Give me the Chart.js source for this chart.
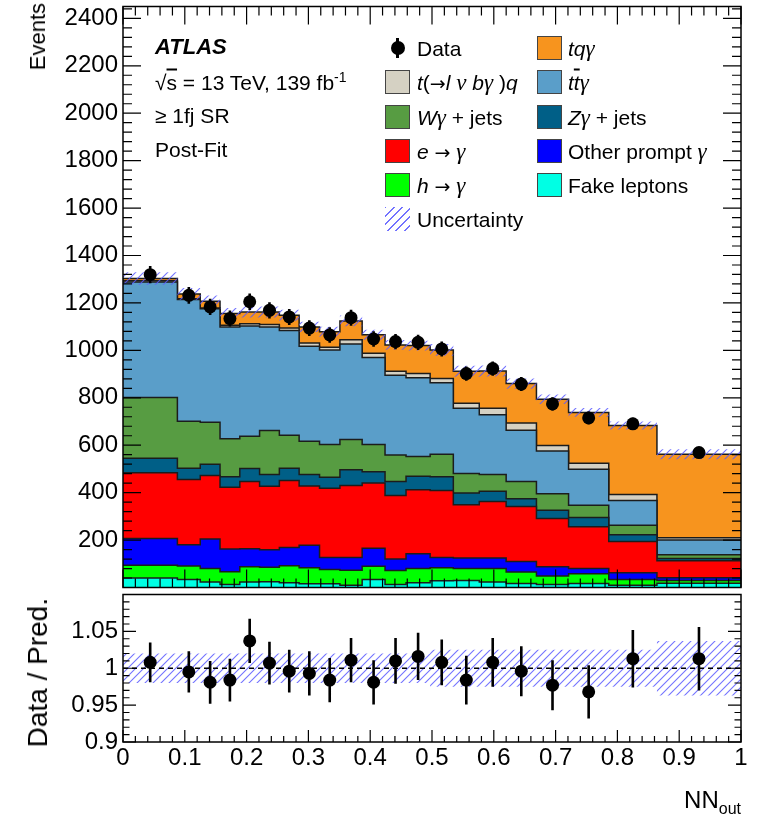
<!DOCTYPE html>
<html>
<head>
<meta charset="utf-8">
<script src="https://cdn.jsdelivr.net/npm/chart.js@4.4.1/dist/chart.umd.min.js"></script>
<style>
  body { margin: 0; background: #fff; font-family: "Liberation Sans", Arial, Helvetica, sans-serif; }
  #wrap { position: relative; width: 758px; height: 814px; overflow: hidden; background: #fff; }
  canvas { position: absolute; left: 0; }
  #main { top: 0; }
  #ratio { top: 588px; }
  .t { position: absolute; white-space: nowrap; font-size: 21px; line-height: 1; color: #000; transform: translateY(-50%); }
  .sw { position: absolute; width: 25px; height: 24px; box-sizing: border-box; border: 1px solid #444; transform: translateY(-50%); }
  .hatch { border: none; background: repeating-linear-gradient(135deg, rgba(90,90,255,0.85) 0 1.3px, transparent 1.3px 6px); }
  .rot { position: absolute; white-space: nowrap; line-height: 1; transform-origin: 0 0; transform: rotate(-90deg) translate(-100%, -50%); }
  .ol { text-decoration: overline; }
  .g { font-family: "Liberation Serif", "DejaVu Serif", serif; font-style: italic; font-size: 23px; }
  .ar { font-family: "DejaVu Sans", sans-serif; font-size: 19px; }
</style>
</head>
<body>
<div id="wrap">
  <canvas id="main" width="758" height="594"></canvas>
  <canvas id="ratio" width="758" height="226"></canvas>

  <div class="t" style="left:155px;top:47px;font-size:22px;font-weight:bold;font-style:italic;">ATLAS</div>
  <div class="t" style="left:155px;top:81px;">&radic;<span class="ol">s</span> = 13 TeV, 139 fb<sup style="font-size:14px;">-1</sup></div>
  <div class="t" style="left:155px;top:115px;">&ge; 1fj SR</div>
  <div class="t" style="left:155px;top:149px;">Post-Fit</div>

  <div style="position:absolute;left:396px;top:38px;width:3px;height:20px;background:#000;"></div>
  <div style="position:absolute;left:391px;top:41px;width:14px;height:14px;border-radius:50%;background:#000;"></div>
  <div class="t" style="left:417px;top:48px;">Data</div>
  <div class="sw" style="left:385px;top:82px;background:#d5d1c3;"></div>
  <div class="t" style="left:417px;top:82px;"><i>t</i>(<span class="ar">&rarr;</span><i>l</i> <span class="g">&nu;</span> <i>b</i><span class="g">&gamma;</span> )<i>q</i></div>
  <div class="sw" style="left:385px;top:117px;background:#579c42;"></div>
  <div class="t" style="left:417px;top:117px;"><i>W</i><span class="g">&gamma;</span> + jets</div>
  <div class="sw" style="left:385px;top:151px;background:#ff0000;"></div>
  <div class="t" style="left:417px;top:151px;"><i>e</i> <span class="ar">&rarr;</span> <span class="g">&gamma;</span></div>
  <div class="sw" style="left:385px;top:185px;background:#00ff00;"></div>
  <div class="t" style="left:417px;top:185px;"><i>h</i> <span class="ar">&rarr;</span> <span class="g">&gamma;</span></div>
  <div class="sw hatch" style="left:385px;top:219px;"></div>
  <div class="t" style="left:417px;top:219px;">Uncertainty</div>

  <div class="sw" style="left:537px;top:48px;background:#f7941e;"></div>
  <div class="t" style="left:568px;top:48px;"><i>tq</i><span class="g">&gamma;</span></div>
  <div class="sw" style="left:537px;top:82px;background:#5a9ec9;"></div>
  <div class="t" style="left:568px;top:82px;"><i>t</i><i class="ol">t</i><span class="g">&gamma;</span></div>
  <div class="sw" style="left:537px;top:117px;background:#005f87;"></div>
  <div class="t" style="left:568px;top:117px;"><i>Z</i><span class="g">&gamma;</span> + jets</div>
  <div class="sw" style="left:537px;top:151px;background:#0000ff;"></div>
  <div class="t" style="left:568px;top:151px;">Other prompt <span class="g">&gamma;</span></div>
  <div class="sw" style="left:537px;top:185px;background:#00ffe4;"></div>
  <div class="t" style="left:568px;top:185px;">Fake leptons</div>

  <div class="rot" style="left:38px;top:3px;font-size:22px;">Events</div>
  <div class="rot" style="left:38px;top:598px;font-size:28px;">Data / Pred.</div>
  <div style="position:absolute;right:17px;top:788px;font-size:24px;line-height:1;">NN<sub style="font-size:16px;">out</sub></div>
</div>

<script>
// bin edges of NN_out
const binEdges = [0, 0.088, 0.125, 0.157, 0.189, 0.221, 0.253, 0.285, 0.318, 0.351, 0.387,
  0.424, 0.458, 0.497, 0.5345, 0.5765, 0.62, 0.669, 0.721, 0.786, 0.864, 1];

// post-fit yields per process (events per bin), bottom of the stack first
const fakeLeptons = [40, 34, 23, 13, 23, 24, 20, 16, 16, 10, 34, 13, 20, 28, 30, 23, 17, 13, 17, 10, 18];
const hToGamma    = [54, 57, 57, 53, 64, 61, 72, 67, 60, 63, 56, 59, 60, 55, 50, 57, 48, 35, 41, 24, 12];
const otherPrompt = [113, 89, 125, 96, 76, 74, 77, 95, 51, 54, 76, 48, 62, 44, 44, 44, 45, 39, 22, 28, 11];
const eToGamma    = [277, 275, 267, 261, 284, 268, 282, 250, 292, 303, 275, 268, 270, 282, 225, 239, 232, 204, 176, 132, 72];
const zGammaJets  = [61, 48, 48, 44, 55, 49, 52, 48, 46, 67, 47, 59, 57, 58, 49, 43, 32, 35, 39, 28, 9];
const wGammaJets  = [256, 198, 177, 160, 136, 186, 139, 141, 138, 127, 115, 112, 83, 95, 83, 70, 73, 69, 52, 41, 16];
const ttGamma     = [487, 513, 478, 472, 465, 437, 442, 400, 399, 403, 367, 336, 333, 301, 275, 252, 216, 181, 152, 104, 62];
const tqDecay     = [5, 4, 4, 7, 9, 10, 10, 14, 11, 18, 18, 17, 17, 18, 21, 28, 31, 23, 25, 25, 10];
const tqGamma     = [10, 20, 28, 49, 50, 53, 54, 68, 65, 79, 78, 111, 118, 121, 135, 157, 166, 195, 214, 291, 352];

const dataCounts = [1319, 1232, 1183, 1134, 1205, 1169, 1141, 1094, 1065, 1138, 1048, 1037, 1034, 1006, 902, 923, 858, 774, 715, 690, 569];
const ratioValues = [1.008, 0.995, 0.981, 0.984, 1.037, 1.007, 0.996, 0.993, 0.984, 1.011, 0.981, 1.010, 1.016, 1.008, 0.984, 1.008, 0.996, 0.977, 0.968, 1.013, 1.013];
const ratioErrors = [0.027, 0.028, 0.029, 0.029, 0.030, 0.029, 0.029, 0.030, 0.030, 0.030, 0.030, 0.031, 0.032, 0.031, 0.033, 0.033, 0.034, 0.034, 0.036, 0.039, 0.043];
// relative total uncertainty of the prediction
const relUncertainty = [0.02, 0.02, 0.02, 0.02, 0.02, 0.02, 0.02, 0.02, 0.02, 0.02, 0.02, 0.02, 0.02,
  0.025, 0.025, 0.025, 0.025, 0.025, 0.025, 0.025, 0.037];

const xTickValues = [0, 0.1, 0.2, 0.3, 0.4, 0.5, 0.6, 0.7, 0.8, 0.9, 1];
const xTickLabels = ['0', '0.1', '0.2', '0.3', '0.4', '0.5', '0.6', '0.7', '0.8', '0.9', '1'];
const mainYTicks = [200, 400, 600, 800, 1000, 1200, 1400, 1600, 1800, 2000, 2200, 2400];
const ratioYTicks = [0.9, 0.95, 1, 1.05];

Chart.defaults.font.family = '"Liberation Sans", Arial, Helvetica, sans-serif';
Chart.defaults.color = '#000';

const stack = [
  { vals: fakeLeptons, color: '#00ffe4' },
  { vals: hToGamma, color: '#00ff00' },
  { vals: otherPrompt, color: '#0000ff' },
  { vals: eToGamma, color: '#ff0000' },
  { vals: zGammaJets, color: '#005f87' },
  { vals: wGammaJets, color: '#579c42' },
  { vals: ttGamma, color: '#5a9ec9' },
  { vals: tqDecay, color: '#d5d1c3' },
  { vals: tqGamma, color: '#f7941e' },
];

function stepPoints(vals) {
  const pts = vals.map((v, i) => ({ x: binEdges[i], y: v }));
  pts.push({ x: binEdges[binEdges.length - 1], y: vals[vals.length - 1] });
  return pts;
}
const centers = binEdges.slice(1).map((e, i) => (binEdges[i] + e) / 2);

function hatchPattern() {
  const c = document.createElement('canvas');
  c.width = 8; c.height = 8;
  const g = c.getContext('2d');
  g.strokeStyle = 'rgba(90,90,255,0.85)';
  g.lineWidth = 1.1;
  g.beginPath();
  g.moveTo(0, 8); g.lineTo(8, 0);
  g.moveTo(-4, 4); g.lineTo(4, -4);
  g.moveTo(4, 12); g.lineTo(12, 4);
  g.stroke();
  return g.createPattern(c, 'repeat');
}

// no extra room for half labels at the axis ends
function fixedWidth(s) {
  s.width = 123;
  s.paddingTop = 0;
  s.paddingBottom = 0;
}

// inside tick marks and frame, ROOT style
const frameTicks = {
  id: 'frameTicks',
  afterDraw(chart, args, o) {
    const { ctx, chartArea: a, scales: { x, y } } = chart;
    ctx.save();
    ctx.strokeStyle = '#000';
    ctx.lineWidth = 1.2;
    ctx.beginPath();
    const nx = Math.round((x.max - x.min) / o.xMinor);
    for (let i = 0; i <= nx; i++) {
      const v = x.min + i * o.xMinor;
      const px = x.getPixelForValue(v);
      const len = Math.abs(v / o.xMajor - Math.round(v / o.xMajor)) < 1e-6 ? o.xLen : o.xLen / 2;
      ctx.moveTo(px, a.bottom); ctx.lineTo(px, a.bottom - len);
      if (o.top) { ctx.moveTo(px, a.top); ctx.lineTo(px, a.top + len); }
    }
    const ny = Math.floor((y.max - o.yStart) / o.yMinor + 1e-6);
    for (let i = 0; i <= ny; i++) {
      const v = o.yStart + i * o.yMinor;
      const py = y.getPixelForValue(v);
      const len = Math.abs(v / o.yMajor - Math.round(v / o.yMajor)) < 1e-6 ? o.yLen : o.yLen / 2;
      ctx.moveTo(a.left, py); ctx.lineTo(a.left + len, py);
      ctx.moveTo(a.right, py); ctx.lineTo(a.right - len, py);
    }
    ctx.stroke();
    ctx.lineWidth = 1.5;
    ctx.strokeRect(a.left, a.top, a.right - a.left, a.bottom - a.top);
    ctx.restore();
  }
};

const errorBars = {
  id: 'errorBars',
  afterDatasetsDraw(chart) {
    const { ctx, scales: { x, y } } = chart;
    chart.data.datasets.forEach(ds => {
      if (!ds.errors) return;
      ctx.save();
      ctx.strokeStyle = '#000';
      ctx.lineWidth = 2.6;
      ctx.beginPath();
      ds.data.forEach((p, k) => {
        const px = x.getPixelForValue(p.x);
        ctx.moveTo(px, y.getPixelForValue(p.y - ds.errors[k]));
        ctx.lineTo(px, y.getPixelForValue(p.y + ds.errors[k]));
      });
      ctx.stroke();
      ctx.restore();
    });
  }
};

const hatch = hatchPattern();

// ---- main panel
const mainSets = [];
let running = binEdges.slice(1).map(() => 0);
stack.forEach((s, i) => {
  running = running.map((r, k) => r + s.vals[k]);
  mainSets.push({
    data: stepPoints(running),
    stepped: 'before',
    fill: i === 0 ? 'origin' : '-1',
    backgroundColor: s.color,
    borderColor: '#1c1c1c',
    borderWidth: 1.5,
    pointRadius: 0,
    order: 2,
  });
});
const totalPred = running;
mainSets.push({
  data: stepPoints(totalPred.map((t, k) => t * (1 + relUncertainty[k]))),
  stepped: 'before', fill: false, borderWidth: 0, pointRadius: 0, order: 1,
});
mainSets.push({
  data: stepPoints(totalPred.map((t, k) => t * (1 - relUncertainty[k]))),
  stepped: 'before', fill: '-1', backgroundColor: hatch, borderWidth: 0, pointRadius: 0, order: 1,
});
mainSets.push({
  data: dataCounts.map((d, k) => ({ x: centers[k], y: d })),
  errors: dataCounts.map(d => Math.sqrt(d)),
  showLine: false,
  pointRadius: 6.5,
  pointBackgroundColor: '#000',
  pointBorderColor: '#000',
  pointBorderWidth: 0,
  order: 0,
});

new Chart(document.getElementById('main'), {
  type: 'line',
  data: { datasets: mainSets },
  options: {
    responsive: false,
    animation: false,
    events: [],
    layout: { padding: { top: 5, right: 17, bottom: 4, left: 0 } },
    plugins: {
      legend: { display: false },
      tooltip: { enabled: false },
      frameTicks: { xMajor: 0.1, xMinor: 0.02, xLen: 18, top: true, yStart: 0, yMajor: 200, yMinor: 40, yLen: 18 },
    },
    scales: {
      x: { type: 'linear', min: 0, max: 1, display: false },
      y: {
        min: 0, max: 2450,
        afterFit: fixedWidth,
        afterBuildTicks: s => { s.ticks = mainYTicks.map(v => ({ value: v })); },
        grid: { display: false, drawTicks: false },
        border: { display: false },
        ticks: { font: { size: 24 }, padding: 5, callback: v => String(v) },
      },
    },
  },
  plugins: [frameTicks, errorBars],
});

// ---- ratio panel
const ratioSets = [
  {
    data: stepPoints(relUncertainty.map(u => 1 + u)),
    stepped: 'before', fill: false, borderWidth: 0, pointRadius: 0, order: 3,
  },
  {
    data: stepPoints(relUncertainty.map(u => 1 - u)),
    stepped: 'before', fill: '-1', backgroundColor: hatch, borderWidth: 0, pointRadius: 0, order: 3,
  },
  {
    data: [{ x: 0, y: 1 }, { x: 1, y: 1 }],
    borderColor: '#000', borderWidth: 1.5, borderDash: [5, 4], pointRadius: 0, fill: false, order: 1,
  },
  {
    data: ratioValues.map((r, k) => ({ x: centers[k], y: r })),
    errors: ratioErrors,
    showLine: false,
    pointRadius: 6.5,
    pointBackgroundColor: '#000',
    pointBorderColor: '#000',
    pointBorderWidth: 0,
    order: 0,
  },
];

new Chart(document.getElementById('ratio'), {
  type: 'line',
  data: { datasets: ratioSets },
  options: {
    responsive: false,
    animation: false,
    events: [],
    layout: { padding: { top: 2, right: 17, bottom: 0, left: 0 } },
    plugins: {
      legend: { display: false },
      tooltip: { enabled: false },
      frameTicks: { xMajor: 0.1, xMinor: 0.02, xLen: 12, top: false, yStart: 0.9, yMajor: 0.05, yMinor: 0.01, yLen: 13 },
    },
    scales: {
      x: {
        type: 'linear', min: 0, max: 1,
        afterFit: s => { s.height = 72; s.paddingLeft = 0; s.paddingRight = 0; },
        afterBuildTicks: s => { s.ticks = xTickValues.map(v => ({ value: v })); },
        grid: { display: false, drawTicks: false },
        border: { display: false },
        ticks: { font: { size: 24 }, padding: 2, maxRotation: 0, autoSkip: false, callback: (v, i) => xTickLabels[i] },
      },
      y: {
        min: 0.9, max: 1.1,
        afterFit: fixedWidth,
        afterBuildTicks: s => { s.ticks = ratioYTicks.map(v => ({ value: v })); },
        grid: { display: false, drawTicks: false },
        border: { display: false },
        ticks: { font: { size: 24 }, padding: 5, callback: v => String(v) },
      },
    },
  },
  plugins: [frameTicks, errorBars],
});
</script>
</body>
</html>
